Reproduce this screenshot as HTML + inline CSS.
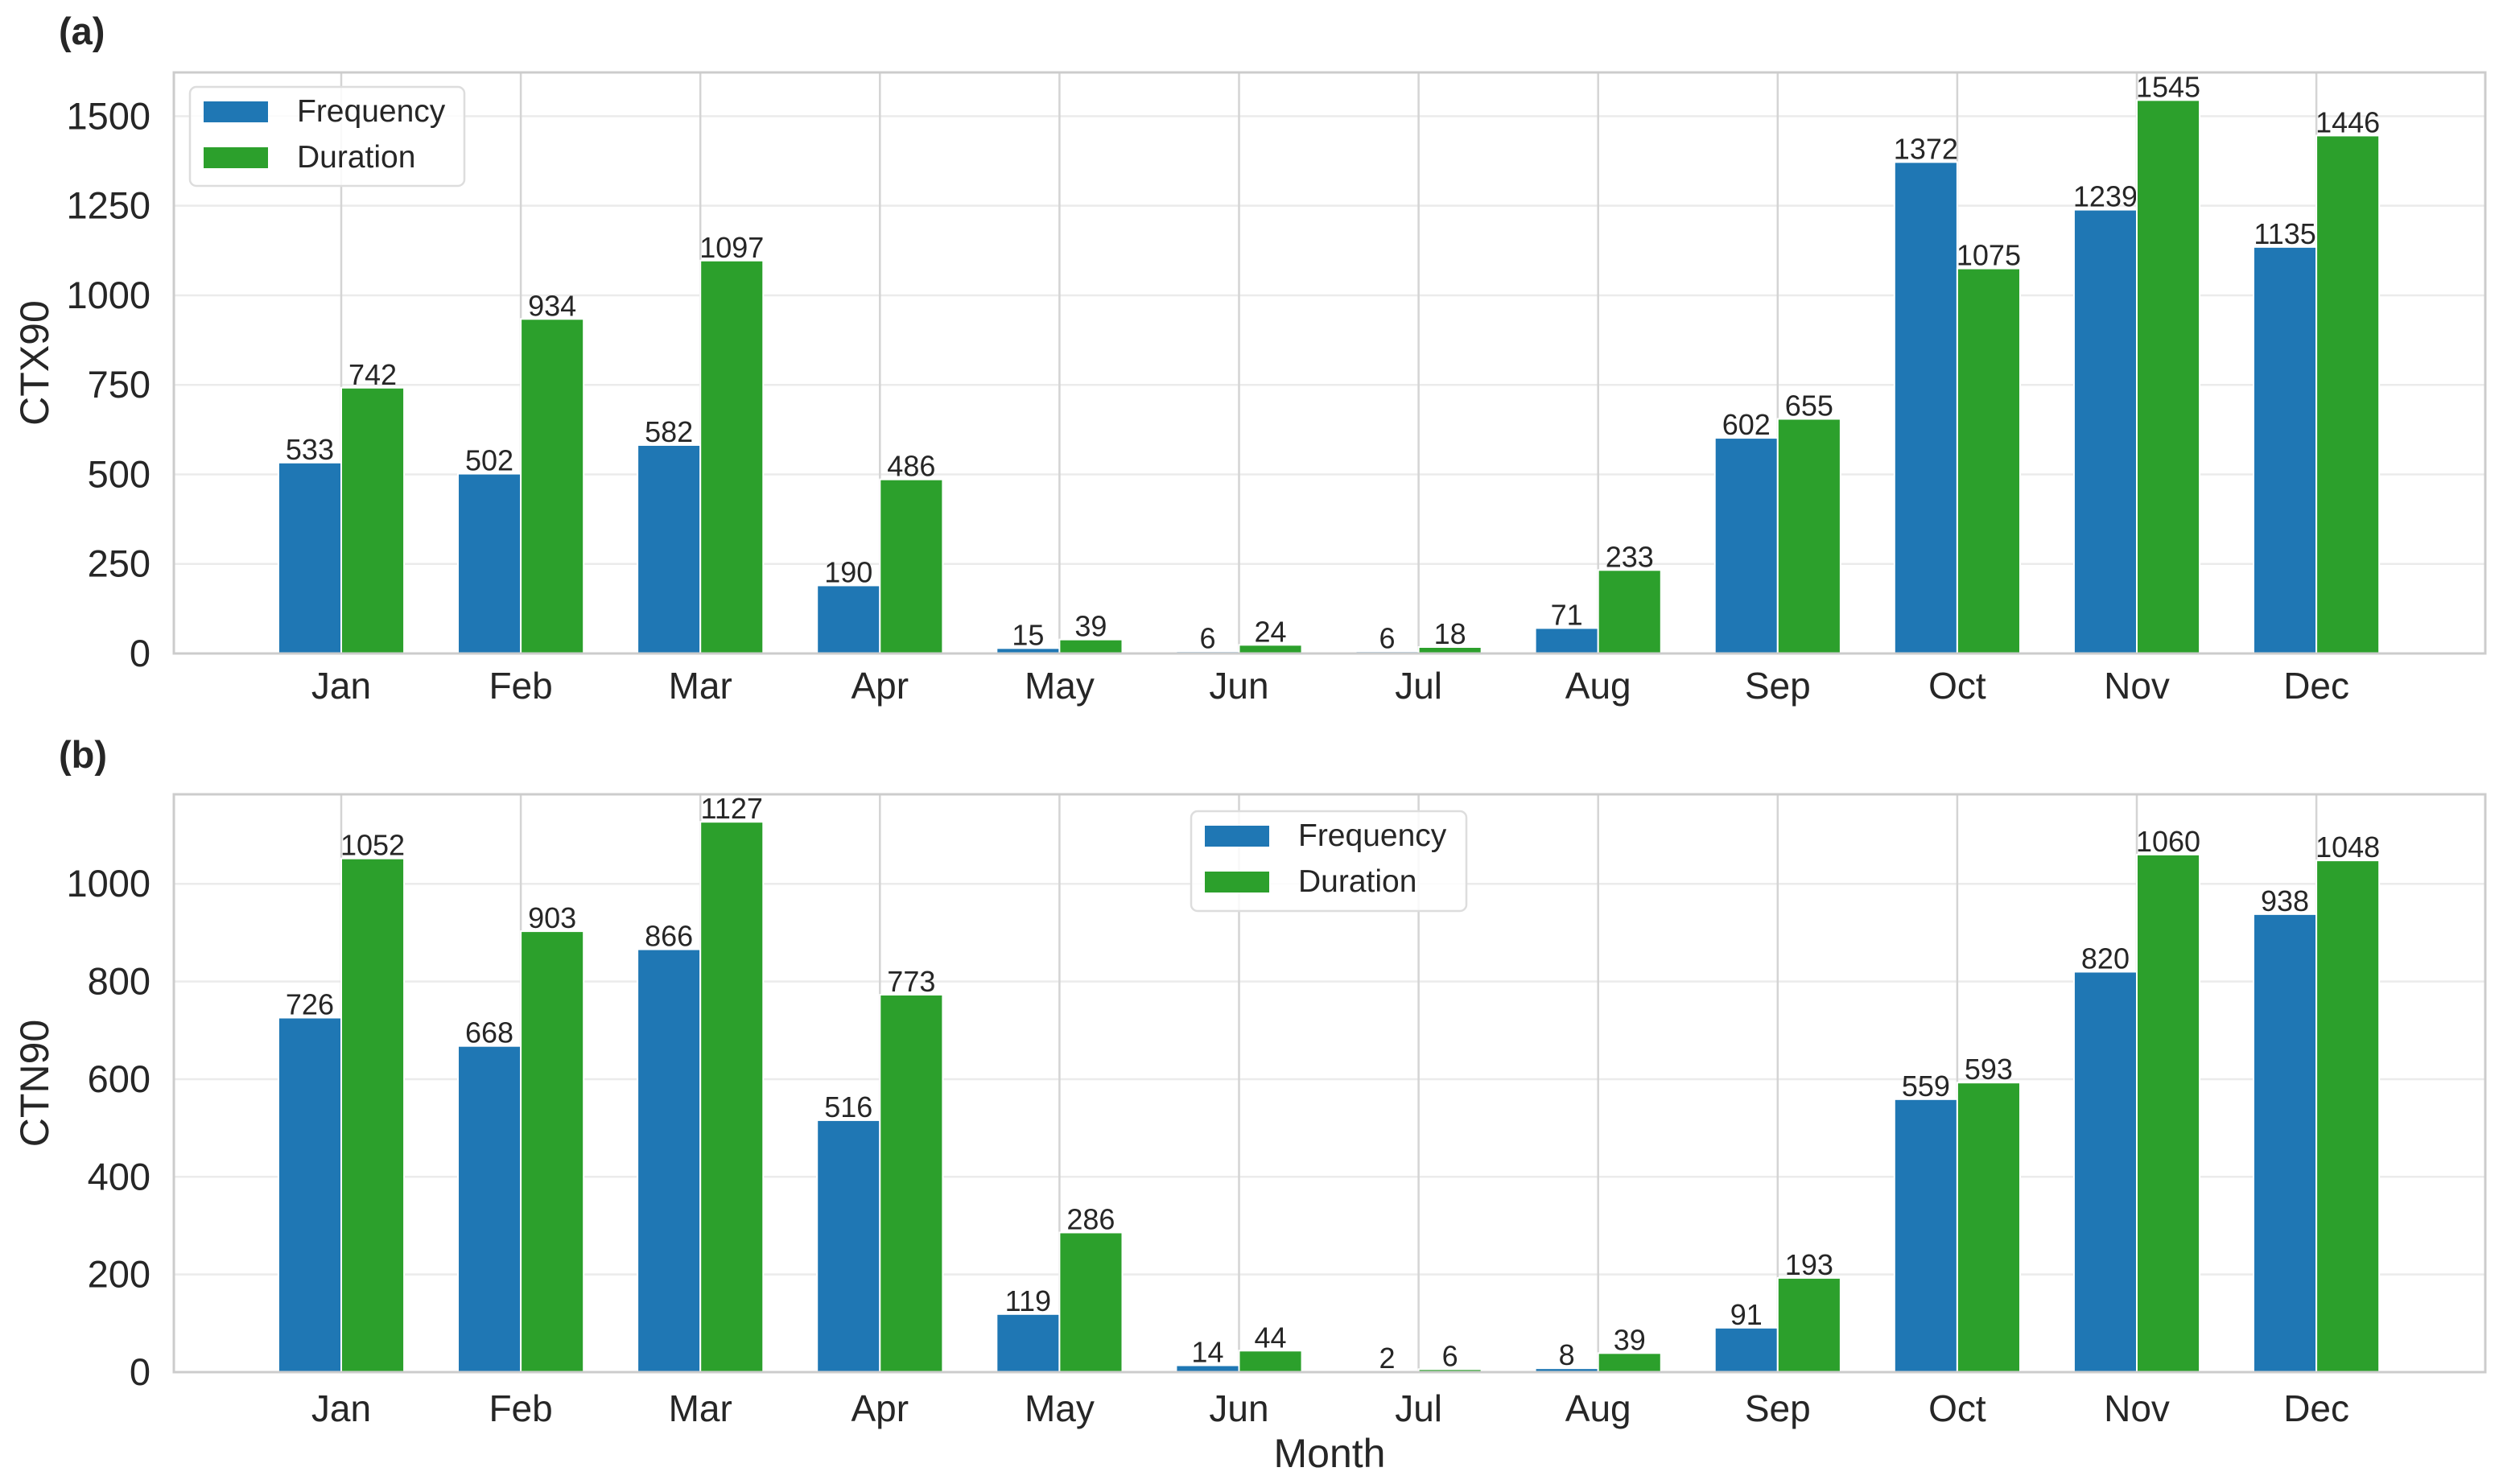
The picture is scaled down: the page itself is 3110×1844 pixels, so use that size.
<!DOCTYPE html>
<html><head><meta charset="utf-8"><style>
html,body{margin:0;padding:0;background:#fff;}
svg{display:block;font-family:"Liberation Sans",Arial,sans-serif;}
</style></head><body>
<svg id="chart" width="3110" height="1844" viewBox="0 0 3110 1844" xmlns="http://www.w3.org/2000/svg">
</svg>
<script>
const months = ["Jan","Feb","Mar","Apr","May","Jun","Jul","Aug","Sep","Oct","Nov","Dec"];
const ctxFrequency = [533,502,582,190,15,6,6,71,602,1372,1239,1135];
const ctxDuration = [742,934,1097,486,39,24,18,233,655,1075,1545,1446];
const ctnFrequency = [726,668,866,516,119,14,2,8,91,559,820,938];
const ctnDuration = [1052,903,1127,773,286,44,6,39,193,593,1060,1048];
const ctxTicks = [0,250,500,750,1000,1250,1500];
const ctnTicks = [0,200,400,600,800,1000];

const NS = "http://www.w3.org/2000/svg";
const svg = document.getElementById('chart');
const BLUE = "#1f77b4", GREEN = "#2ca02c";
const LEFT = 216, RIGHT = 3088, X0 = 424, UNIT = 223.1, BW = 0.35;

function mk(tag, attrs, parent, text){
  const e = document.createElementNS(NS, tag);
  for (const k in attrs) e.setAttribute(k, attrs[k]);
  if (text !== undefined) e.textContent = text;
  (parent || svg).appendChild(e);
  return e;
}
function xPos(i){ return X0 + i * UNIT; }

function panel(cfg){
  const g = mk('g', {});
  
  
  const top = cfg.top, bottom = cfg.bottom;
  const ymax = cfg.ymax;
  const yPos = v => bottom - v / ymax * (bottom - top);
  // horizontal grid
  cfg.ticks.forEach(t => {
    const y = yPos(t);
    const l = mk('line', {x1: LEFT, x2: RIGHT, y1: y, y2: y, stroke: "#ebebeb", "stroke-width": 2.5}, g);
    
    
    const tx = mk('text', {x: 187, y: y + 16, "text-anchor": "end", "font-size": 47, fill: "#262626"}, g, String(t));
    
    
  });
  // vertical grid
  months.forEach((m, i) => {
    const x = xPos(i);
    const l = mk('line', {x1: x, x2: x, y1: top, y2: bottom, stroke: "#d4d4d4", "stroke-width": 2.5}, g);
    
    
    const tx = mk('text', {x: x, y: cfg.tickBase, "text-anchor": "middle", "font-size": 46, fill: "#262626"}, g, m);
    
    
  });
  // bars
  const series = [[cfg.freq, BLUE, -1, 'frequency'], [cfg.dur, GREEN, 0, 'duration']];
  series.forEach(([vals, col, off, nm]) => {
    vals.forEach((v, i) => {
      const x = xPos(i) + off * BW * UNIT;
      const w = BW * UNIT;
      const y = yPos(v);
      const r = mk('rect', {x: x, y: y, width: w, height: bottom - y, fill: col, stroke: "#ffffff", "stroke-width": 2}, g);
      
      
      const t = mk('text', {x: x + w / 2, y: y - 4, "text-anchor": "middle", "font-size": 36, fill: "#262626"}, g, String(v));
      
      
    });
  });
  // frame
  const f = mk('rect', {x: LEFT, y: top, width: RIGHT - LEFT, height: bottom - top, fill: "none", stroke: "#cccccc", "stroke-width": 3}, g);
  
  
  // y label
  const cy = (top + bottom) / 2;
  const yl = mk('text', {x: 0, y: 0, transform: "translate(60," + cy + ") rotate(-90)", "text-anchor": "middle", "font-size": 50, fill: "#262626"}, g, cfg.ylabel);
  
  
  // panel letter
  const pl = mk('text', {x: 73, y: cfg.letterY, "font-size": 47, "font-weight": "bold", fill: "#262626"}, g, cfg.letter);
  
  
  // legend
  const L = cfg.legend;
  const lg = mk('g', {}, g);
  
  
  mk('rect', {x: L.x, y: L.y, width: L.w, height: L.h, rx: 8, fill: "#ffffff", "fill-opacity": 0.85, stroke: "#dddddd", "stroke-width": 2.5}, lg);
  [["Frequency", BLUE, 0], ["Duration", GREEN, 1]].forEach(([lab, col, k]) => {
    const ey = L.y + 18 + k * 57;
    const p = mk('rect', {x: L.x + 17, y: ey, width: 80, height: 26, fill: col}, lg);
    
    
    const t = mk('text', {x: L.x + 133, y: ey + 25, "font-size": 39, fill: "#262626"}, lg, lab);
    
    
  });
}

panel({name: 'panel-a-ctx90', top: 90, bottom: 812, ymax: 1545 * 1.05, ticks: ctxTicks,
  freq: ctxFrequency, dur: ctxDuration, tickBase: 868, ylabel: "CTX90", letter: "(a)", letterY: 55,
  legend: {x: 236, y: 108, w: 341, h: 123}});
panel({name: 'panel-b-ctn90', top: 987, bottom: 1705, ymax: 1127 * 1.05, ticks: ctnTicks,
  freq: ctnFrequency, dur: ctnDuration, tickBase: 1766, ylabel: "CTN90", letter: "(b)", letterY: 954,
  legend: {x: 1480, y: 1008, w: 342, h: 124}});

const xl = mk('text', {x: 1652, y: 1823, "text-anchor": "middle", "font-size": 50, fill: "#262626"}, svg, "Month");


</script>
</body></html>
